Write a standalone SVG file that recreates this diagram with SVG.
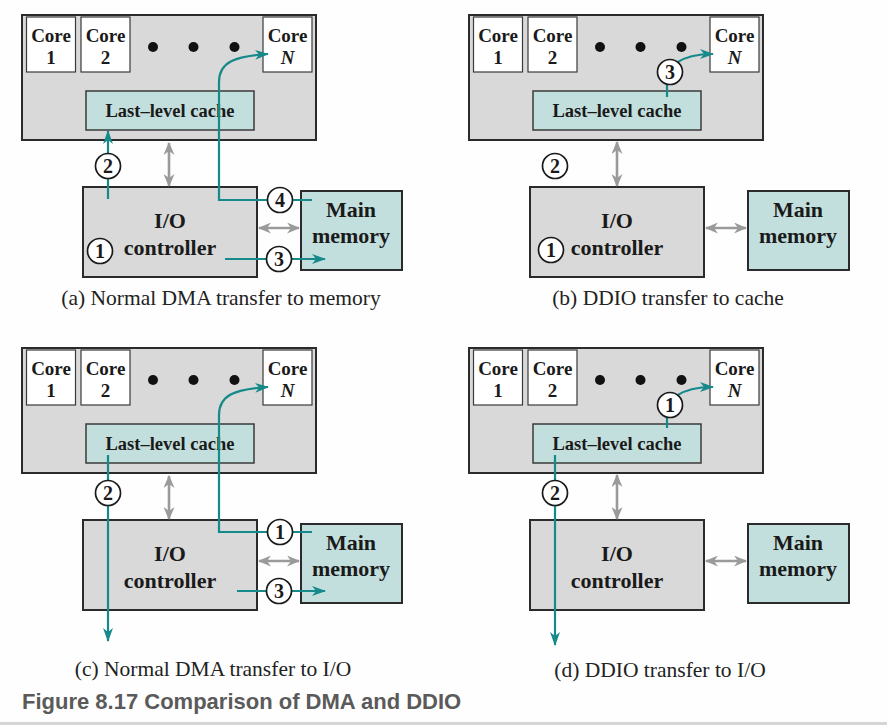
<svg xmlns="http://www.w3.org/2000/svg" width="887" height="726" viewBox="0 0 887 726">
<defs>
<style>
.bg{fill:#fefefe}
.cpu{fill:#d9d9d9;stroke:#2b2b2b;stroke-width:2}
.core{fill:#ffffff;stroke:#3a3a3a;stroke-width:1.2}
.cache{fill:#c3dfdd;stroke:#3a3a3a;stroke-width:1.5}
.ioc{fill:#d9d9d9;stroke:#2b2b2b;stroke-width:2}
.mem{fill:#c3dfdd;stroke:#2b2b2b;stroke-width:2}
.dot{fill:#111}
.t{font-family:"Liberation Serif","Times New Roman",serif;font-weight:bold;fill:#1a1a1a;text-anchor:middle}
.core-t{font-size:19px}
.cache-t{font-size:18.5px}
.big-t{font-size:22px}
.it{font-style:italic}
.cap{font-family:"Liberation Serif","Times New Roman",serif;font-size:21.5px;fill:#222;text-anchor:middle}
.title{font-family:"Liberation Sans",Arial,sans-serif;font-weight:bold;font-size:22px;fill:#5a5a5a}
.teal{fill:none;stroke:#168a8a;stroke-width:2.2}
.tealA{fill:none;stroke:#168a8a;stroke-width:2.2;marker-end:url(#ah)}
.gray{fill:none;stroke:#9a9a9a;stroke-width:2.6;marker-start:url(#gh);marker-end:url(#gh)}
.num circle{fill:#ffffff;stroke:#1a1a1a;stroke-width:1.7}
.num text{font-family:"Liberation Serif","Times New Roman",serif;font-weight:bold;font-size:20px;fill:#1a1a1a;text-anchor:middle}
</style>
<marker id="ah" viewBox="0 0 14 10" refX="13" refY="5" markerWidth="14" markerHeight="10" markerUnits="userSpaceOnUse" orient="auto">
<path d="M0,0 L14,5 L0,10 L4,5 z" fill="#168a8a"/>
</marker>
<marker id="gh" viewBox="0 0 13 11" refX="12" refY="5.5" markerWidth="13" markerHeight="11" markerUnits="userSpaceOnUse" orient="auto-start-reverse">
<path d="M0,0 L13,5.5 L0,11 L4,5.5 z" fill="#9a9a9a"/>
</marker>
</defs>
<rect class="bg" x="0" y="0" width="887" height="726"/>

<!-- Panel (a) -->
<g id="panel-a">
<g id="a-cpu"><rect class="cpu" x="22" y="15" width="294" height="125"/></g>
<g id="a-core1"><rect class="core" x="26.5" y="17" width="49" height="55"/><text class="t core-t" x="51" y="42">Core</text><text class="t core-t" x="51" y="64">1</text></g>
<g id="a-core2"><rect class="core" x="81" y="17" width="49" height="55"/><text class="t core-t" x="105.5" y="42">Core</text><text class="t core-t" x="105.5" y="64">2</text></g>
<g id="a-dots"><circle class="dot" cx="153" cy="47" r="5"/><circle class="dot" cx="193.5" cy="47" r="5"/><circle class="dot" cx="234.5" cy="47" r="5"/></g>
<g id="a-coreN"><rect class="core" x="263" y="17" width="49" height="55"/><text class="t core-t" x="287.5" y="42">Core</text><text class="t core-t it" x="287.5" y="64">N</text></g>
<g id="a-cache"><rect class="cache" x="86" y="91" width="168" height="39"/><text class="t cache-t" x="170" y="117">Last–level cache</text></g>
<g id="a-io"><rect class="ioc" x="83" y="187" width="174" height="90"/><text class="t big-t" x="170" y="228">I/O</text><text class="t big-t" x="170" y="255">controller</text></g>
<g id="a-mem"><rect class="mem" x="301" y="191" width="101" height="79"/><text class="t big-t" x="351" y="217">Main</text><text class="t big-t" x="351" y="243">memory</text></g>
<g id="a-connectors">
<line class="gray" x1="169" y1="143" x2="169" y2="186"/>
<line class="gray" x1="259" y1="228" x2="299" y2="228"/>
<path class="tealA" d="M108,199 V131"/>
<path class="tealA" d="M312,200 H219 V82 C219,62 235,56 268,54"/>
<path class="tealA" d="M225,259 H325"/>
<g class="num"><circle cx="108" cy="166" r="12.5"/><text x="108" y="173">2</text></g>
<g class="num"><circle cx="280" cy="200" r="12.5"/><text x="280" y="207">4</text></g>
<g class="num"><circle cx="279" cy="259" r="12.5"/><text x="279" y="266">3</text></g>
<g class="num"><circle cx="100" cy="251" r="12.5"/><text x="100" y="258">1</text></g>
</g>
<text class="cap" x="221" y="305">(a) Normal DMA transfer to memory</text>
</g>

<!-- Panel (b) -->
<g id="panel-b" transform="translate(447,0)">
<g id="b-cpu"><rect class="cpu" x="22" y="15" width="294" height="125"/></g>
<g id="b-core1"><rect class="core" x="26.5" y="17" width="49" height="55"/><text class="t core-t" x="51" y="42">Core</text><text class="t core-t" x="51" y="64">1</text></g>
<g id="b-core2"><rect class="core" x="81" y="17" width="49" height="55"/><text class="t core-t" x="105.5" y="42">Core</text><text class="t core-t" x="105.5" y="64">2</text></g>
<g id="b-dots"><circle class="dot" cx="153" cy="47" r="5"/><circle class="dot" cx="193.5" cy="47" r="5"/><circle class="dot" cx="234.5" cy="47" r="5"/></g>
<g id="b-coreN"><rect class="core" x="263" y="17" width="49" height="55"/><text class="t core-t" x="287.5" y="42">Core</text><text class="t core-t it" x="287.5" y="64">N</text></g>
<g id="b-cache"><rect class="cache" x="86" y="91" width="168" height="39"/><text class="t cache-t" x="170" y="117">Last–level cache</text></g>
<g id="b-io"><rect class="ioc" x="83" y="187" width="174" height="90"/><text class="t big-t" x="170" y="228">I/O</text><text class="t big-t" x="170" y="255">controller</text></g>
<g id="b-mem"><rect class="mem" x="301" y="191" width="101" height="79"/><text class="t big-t" x="351" y="217">Main</text><text class="t big-t" x="351" y="243">memory</text></g>
<g id="b-connectors">
<line class="gray" x1="170" y1="142" x2="170" y2="186"/>
<line class="gray" x1="259" y1="228" x2="299" y2="228"/>
<path class="teal" d="M220,97 V80"/>
<path class="tealA" d="M229,63 Q242,54 266,54"/>
<g class="num"><circle cx="223" cy="72" r="12.5"/><text x="223" y="79">3</text></g>
<g class="num"><circle cx="108" cy="166" r="12.5"/><text x="108" y="173">2</text></g>
<g class="num"><circle cx="104" cy="250" r="12.5"/><text x="104" y="257">1</text></g>
</g>
<text class="cap" x="221" y="305">(b) DDIO transfer to cache</text>
</g>

<!-- Panel (c) -->
<g id="panel-c" transform="translate(0,333)">
<g id="c-cpu"><rect class="cpu" x="22" y="15" width="294" height="125"/></g>
<g id="c-core1"><rect class="core" x="26.5" y="17" width="49" height="55"/><text class="t core-t" x="51" y="42">Core</text><text class="t core-t" x="51" y="64">1</text></g>
<g id="c-core2"><rect class="core" x="81" y="17" width="49" height="55"/><text class="t core-t" x="105.5" y="42">Core</text><text class="t core-t" x="105.5" y="64">2</text></g>
<g id="c-dots"><circle class="dot" cx="153" cy="47" r="5"/><circle class="dot" cx="193.5" cy="47" r="5"/><circle class="dot" cx="234.5" cy="47" r="5"/></g>
<g id="c-coreN"><rect class="core" x="263" y="17" width="49" height="55"/><text class="t core-t" x="287.5" y="42">Core</text><text class="t core-t it" x="287.5" y="64">N</text></g>
<g id="c-cache"><rect class="cache" x="86" y="91" width="168" height="39"/><text class="t cache-t" x="170" y="117">Last–level cache</text></g>
<g id="c-io"><rect class="ioc" x="83" y="187" width="174" height="90"/><text class="t big-t" x="170" y="228">I/O</text><text class="t big-t" x="170" y="255">controller</text></g>
<g id="c-mem"><rect class="mem" x="301" y="191" width="101" height="79"/><text class="t big-t" x="351" y="217">Main</text><text class="t big-t" x="351" y="243">memory</text></g>
<g id="c-connectors">
<line class="gray" x1="169" y1="143" x2="169" y2="186"/>
<line class="gray" x1="259" y1="228" x2="299" y2="228"/>
<path class="tealA" d="M108,122 V308"/>
<path class="tealA" d="M312,199 H219 V82 C219,62 235,56 268,54"/>
<path class="tealA" d="M237,258 H325"/>
<g class="num"><circle cx="108" cy="160" r="12.5"/><text x="108" y="167">2</text></g>
<g class="num"><circle cx="280" cy="199" r="12.5"/><text x="280" y="206">1</text></g>
<g class="num"><circle cx="279" cy="258" r="12.5"/><text x="279" y="265">3</text></g>
</g>
<text class="cap" x="213" y="343">(c) Normal DMA transfer to I/O</text>
</g>

<!-- Panel (d) -->
<g id="panel-d" transform="translate(447,333)">
<g id="d-cpu"><rect class="cpu" x="22" y="15" width="294" height="125"/></g>
<g id="d-core1"><rect class="core" x="26.5" y="17" width="49" height="55"/><text class="t core-t" x="51" y="42">Core</text><text class="t core-t" x="51" y="64">1</text></g>
<g id="d-core2"><rect class="core" x="81" y="17" width="49" height="55"/><text class="t core-t" x="105.5" y="42">Core</text><text class="t core-t" x="105.5" y="64">2</text></g>
<g id="d-dots"><circle class="dot" cx="153" cy="47" r="5"/><circle class="dot" cx="193.5" cy="47" r="5"/><circle class="dot" cx="234.5" cy="47" r="5"/></g>
<g id="d-coreN"><rect class="core" x="263" y="17" width="49" height="55"/><text class="t core-t" x="287.5" y="42">Core</text><text class="t core-t it" x="287.5" y="64">N</text></g>
<g id="d-cache"><rect class="cache" x="86" y="91" width="168" height="39"/><text class="t cache-t" x="170" y="117">Last–level cache</text></g>
<g id="d-io"><rect class="ioc" x="83" y="187" width="174" height="90"/><text class="t big-t" x="170" y="228">I/O</text><text class="t big-t" x="170" y="255">controller</text></g>
<g id="d-mem"><rect class="mem" x="301" y="191" width="101" height="79"/><text class="t big-t" x="351" y="217">Main</text><text class="t big-t" x="351" y="243">memory</text></g>
<g id="d-connectors">
<line class="gray" x1="170" y1="142" x2="170" y2="186"/>
<line class="gray" x1="259" y1="228" x2="299" y2="228"/>
<path class="teal" d="M220,95 V80"/>
<path class="tealA" d="M229,63 Q242,54 266,54"/>
<path class="tealA" d="M108,122 V312"/>
<g class="num"><circle cx="223" cy="72" r="12.5"/><text x="223" y="79">1</text></g>
<g class="num"><circle cx="108" cy="160" r="12.5"/><text x="108" y="167">2</text></g>
</g>
<text class="cap" x="213" y="344">(d) DDIO transfer to I/O</text>
</g>

<text class="title" x="22" y="709">Figure 8.17 Comparison of DMA and DDIO</text>
<rect x="0" y="722" width="887" height="3" fill="#d6d6d6"/>
</svg>
